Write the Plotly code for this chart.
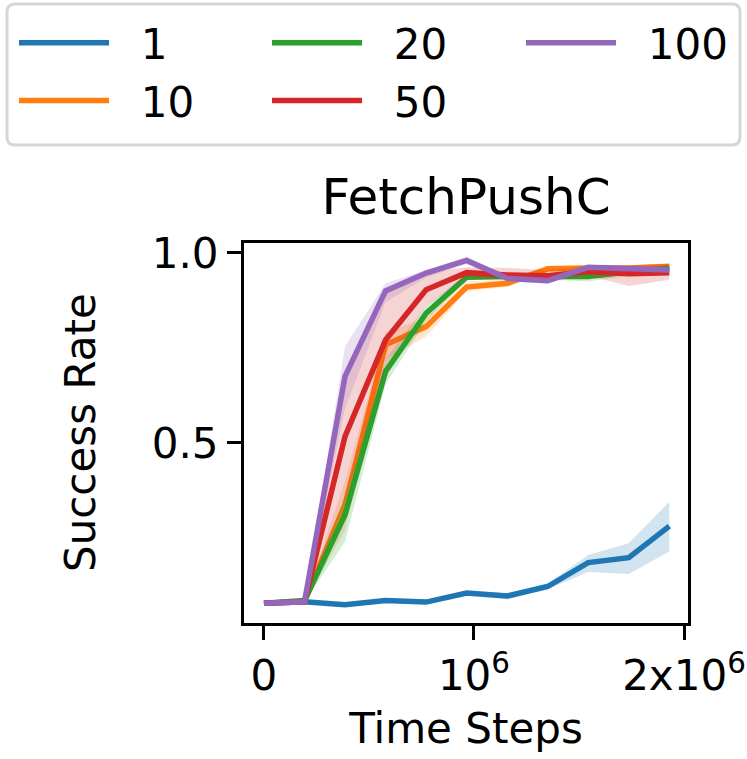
import plotly.graph_objects as go

# time steps (evaluation points)
steps = [0, 193000, 386000, 579000, 772000, 965000, 1158000, 1351000, 1544000, 1737000, 1930000]

# success rate, mean / lower / upper, one set per legend key
sr_1 = [0.078, 0.082, 0.074, 0.085, 0.081, 0.105, 0.097, 0.122, 0.185, 0.198, 0.281]
lo_1 = [0.074, 0.079, 0.070, 0.080, 0.077, 0.100, 0.088, 0.115, 0.160, 0.155, 0.214]
hi_1 = [0.082, 0.085, 0.078, 0.090, 0.085, 0.110, 0.105, 0.130, 0.205, 0.236, 0.345]

sr_10 = [0.078, 0.083, 0.337, 0.758, 0.806, 0.910, 0.920, 0.958, 0.960, 0.960, 0.964]
lo_10 = [0.075, 0.080, 0.270, 0.720, 0.780, 0.900, 0.910, 0.950, 0.950, 0.950, 0.955]
hi_10 = [0.081, 0.086, 0.400, 0.790, 0.830, 0.925, 0.930, 0.965, 0.967, 0.967, 0.972]

sr_20 = [0.078, 0.085, 0.311, 0.688, 0.841, 0.936, 0.938, 0.938, 0.938, 0.950, 0.960]
lo_20 = [0.075, 0.082, 0.240, 0.655, 0.820, 0.930, 0.930, 0.930, 0.925, 0.940, 0.950]
hi_20 = [0.081, 0.088, 0.360, 0.720, 0.860, 0.945, 0.945, 0.945, 0.945, 0.960, 0.967]

sr_50 = [0.078, 0.082, 0.517, 0.771, 0.903, 0.948, 0.942, 0.940, 0.951, 0.945, 0.948]
lo_50 = [0.075, 0.079, 0.350, 0.700, 0.860, 0.935, 0.930, 0.925, 0.940, 0.913, 0.929]
hi_50 = [0.081, 0.085, 0.680, 0.895, 0.950, 0.962, 0.960, 0.955, 0.965, 0.967, 0.973]

sr_100 = [0.078, 0.082, 0.675, 0.900, 0.947, 0.980, 0.933, 0.927, 0.962, 0.958, 0.955]
lo_100 = [0.075, 0.079, 0.590, 0.870, 0.935, 0.970, 0.925, 0.920, 0.955, 0.950, 0.948]
hi_100 = [0.081, 0.085, 0.754, 0.920, 0.955, 0.990, 0.940, 0.935, 0.968, 0.965, 0.962]

names = ['1', '10', '20', '50', '100']
colors = ['#1f77b4', '#ff7f0e', '#2ca02c', '#d62728', '#9467bd']
fills = ['rgba(31,119,180,0.2)', 'rgba(255,127,14,0.2)', 'rgba(44,160,44,0.2)',
         'rgba(214,39,40,0.2)', 'rgba(148,103,189,0.2)']
means = [sr_1, sr_10, sr_20, sr_50, sr_100]
lows = [lo_1, lo_10, lo_20, lo_50, lo_100]
highs = [hi_1, hi_10, hi_20, hi_50, hi_100]
# matplotlib-style 3-column legend -> one plotly legend per column
which_legend = ['legend', 'legend', 'legend2', 'legend2', 'legend3']

FONT = 'DejaVu Sans'
W, H = 747, 759
L, T, R, B = 244, 243, 59, 136
PW, PH = W - L - R, H - T - B

fig = go.Figure()
for name, c, f, m, lo, hi, lg in zip(names, colors, fills, means, lows, highs, which_legend):
    fig.add_trace(go.Scatter(x=steps, y=m, mode='lines', name='\u00a0\u00a0' + name,
                             line=dict(color=c, width=5.5), legend=lg, legendgroup=name))
    fig.add_trace(go.Scatter(x=steps, y=lo, mode='lines', line=dict(width=0),
                             showlegend=False, hoverinfo='skip'))
    fig.add_trace(go.Scatter(x=steps, y=hi, mode='lines', line=dict(width=0),
                             fill='tonexty', fillcolor=f, showlegend=False, hoverinfo='skip'))

leg = dict(font=dict(family=FONT, size=42, color='black'), bgcolor='rgba(0,0,0,0)',
           borderwidth=0, xref='container', yref='container', xanchor='left', yanchor='top',
           itemwidth=90, tracegroupgap=3, traceorder='normal')
fig.update_layout(
    width=W, height=H,
    margin=dict(l=L, r=R, t=T, b=B, autoexpand=False),
    plot_bgcolor='white', paper_bgcolor='white',
    font=dict(family=FONT, size=42, color='black'),
    title=dict(text='FetchPushC', font=dict(family=FONT, size=50, color='black'),
               x=466 / W, xanchor='center', y=1 - 196 / H, yanchor='middle'),
    legend=dict(leg, x=14 / W, y=1 - 9 / H),
    legend2=dict(leg, x=267 / W, y=1 - 9 / H),
    legend3=dict(leg, x=521 / W, y=1 - 9 / H),
    showlegend=True,
)

# rounded frame around the legend block (pixel -> paper)
def px(x):
    return (x - L) / PW

def py(y):
    return (H - B - y) / PH

x0, x1, y0, y1, r = 7, 740, 4, 145, 8
path = (f'M{px(x0 + r)},{py(y0)} L{px(x1 - r)},{py(y0)} Q{px(x1)},{py(y0)} {px(x1)},{py(y0 + r)} '
        f'L{px(x1)},{py(y1 - r)} Q{px(x1)},{py(y1)} {px(x1 - r)},{py(y1)} '
        f'L{px(x0 + r)},{py(y1)} Q{px(x0)},{py(y1)} {px(x0)},{py(y1 - r)} '
        f'L{px(x0)},{py(y0 + r)} Q{px(x0)},{py(y0)} {px(x0 + r)},{py(y0)} Z')
fig.add_shape(type='path', xref='paper', yref='paper', path=path,
              line=dict(color='#d6d6d6', width=3), layer='above')

# y label as annotation (axis title lands inside the plot with fixed margins)
fig.add_annotation(text='Success Rate', textangle=-90, showarrow=False,
                   xref='paper', yref='paper', x=px(80), y=py(433),
                   xanchor='center', yanchor='middle',
                   font=dict(family=FONT, size=42, color='black'))

fig.update_xaxes(range=[-95000, 2019000], tickvals=[0, 1e6, 2e6],
                 ticktext=['0', '10<sup>6</sup>', '2x10<sup>6</sup>'],
                 showline=True, mirror=True, linecolor='black', linewidth=3,
                 ticks='outside', ticklen=14, tickwidth=3, tickcolor='black',
                 showgrid=False, zeroline=False,
                 title=dict(text='Time Steps', font=dict(family=FONT, size=42, color='black')))
fig.update_yaxes(range=[0.026, 1.026], tickvals=[0.5, 1.0], ticktext=['0.5', '1.0'],
                 showline=True, mirror=True, linecolor='black', linewidth=3,
                 ticks='outside', ticklen=14, tickwidth=3, tickcolor='black',
                 showgrid=False, zeroline=False)

fig.write_html('out.html', config={'displayModeBar': False},
               post_script="document.body.style.margin='0';")
